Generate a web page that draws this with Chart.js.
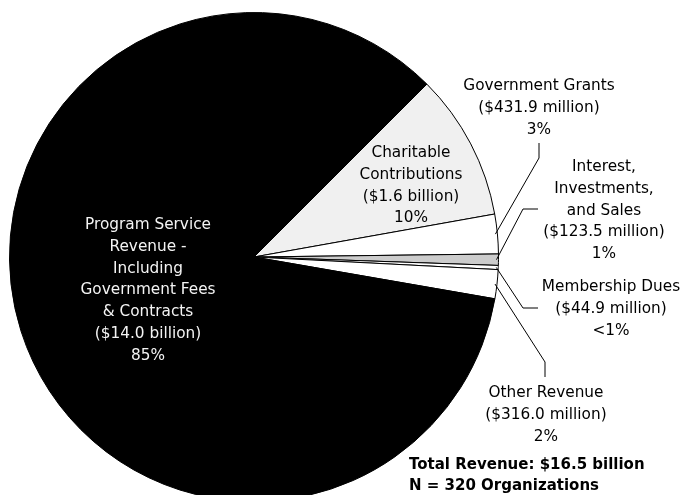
<!DOCTYPE html>
<html>
<head>
<meta charset="utf-8">
<script src="https://cdn.jsdelivr.net/npm/chart.js@4"></script>
<style>
    html, body { margin: 0; padding: 0; background: #fff; overflow: hidden; }
    #wrap { width: 683px; height: 495px; overflow: hidden; position: relative; }
</style>
</head>
<body>
<div id="wrap"><canvas id="revenueChart" width="683" height="520"></canvas></div>
<script>
// Revenue sources (millions of dollars), clockwise from the top-right
const categories = ['Charitable Contributions', 'Government Grants', 'Interest, Investments, and Sales',
    'Membership Dues', 'Other Revenue', 'Program Service Revenue - Including Government Fees & Contracts'];
const revenueMillions = [1600, 431.9, 123.5, 44.9, 316.0, 14000];
const amountLabels = ['($1.6 billion)', '($431.9 million)', '($123.5 million)', '($44.9 million)', '($316.0 million)', '($14.0 billion)'];
const percentLabels = ['10%', '3%', '1%', '<1%', '2%', '85%'];
const nameLines = [
    ['Charitable', 'Contributions'],
    ['Government Grants'],
    ['Interest,', 'Investments,', 'and Sales'],
    ['Membership Dues'],
    ['Other Revenue'],
    ['Program Service', 'Revenue -', 'Including', 'Government Fees', '& Contracts']
];
const sliceColors = ['#f0f0f0', '#ffffff', '#cccccc', '#ffffff', '#ffffff', '#000000'];
const totalLines = ['Total Revenue: $16.5 billion', 'N = 320 Organizations'];

// where each label block sits (first line centre) and its leader line bends
const labelSpots = [
    { x: 411, y: 153, color: '#000' },
    { x: 539, y: 86, color: '#000', leader: [[539, 158], [539, 143]] },
    { x: 604, y: 167, color: '#000', leader: [[523, 209], [538, 209]] },
    { x: 611, y: 287, color: '#000', leader: [[523, 308], [538, 308]] },
    { x: 546, y: 393, color: '#000', leader: [[545, 362], [545, 377]] },
    { x: 148, y: 225, color: '#f4f4f4' }
];

const LINE_H = 21.8;
const FONT = '15.3px "DejaVu Sans", Verdana, sans-serif';

const labelPlugin = {
    id: 'sliceLabels',
    afterDraw(chart) {
        const ctx = chart.ctx;
        const arcs = chart.getDatasetMeta(0).data;
        ctx.save();
        ctx.font = FONT;
        ctx.textAlign = 'center';
        ctx.textBaseline = 'middle';

        labelSpots.forEach(function(spot, i) {
            const lines = nameLines[i].concat([amountLabels[i], percentLabels[i]]);
            ctx.fillStyle = spot.color;
            lines.forEach(function(t, k) {
                ctx.fillText(t, spot.x, spot.y + k * LINE_H);
            });

            if (spot.leader) {
                const arc = arcs[i];
                const mid = (arc.startAngle + arc.endAngle) / 2;
                const r = arc.outerRadius - 2;
                ctx.beginPath();
                ctx.moveTo(arc.x + r * Math.cos(mid), arc.y + r * Math.sin(mid));
                spot.leader.forEach(function(p) { ctx.lineTo(p[0], p[1]); });
                ctx.strokeStyle = '#000';
                ctx.lineWidth = 1;
                ctx.stroke();
            }
        });

        // totals note
        ctx.font = 'bold 15px "DejaVu Sans", Verdana, sans-serif';
        ctx.textAlign = 'left';
        ctx.fillStyle = '#000';
        ctx.fillText(totalLines[0], 409, 465);
        ctx.fillText(totalLines[1], 409, 486);
        ctx.restore();
    }
};

new Chart(document.getElementById('revenueChart'), {
    type: 'pie',
    data: {
        labels: categories,
        datasets: [{
            data: revenueMillions,
            backgroundColor: sliceColors,
            borderColor: '#000',
            borderWidth: 1
        }]
    },
    options: {
        responsive: false,
        animation: false,
        rotation: 45,
        layout: { padding: { left: 9, right: 184, top: 12, bottom: 18 } },
        plugins: {
            legend: { display: false },
            tooltip: { enabled: false }
        }
    },
    plugins: [labelPlugin]
});
</script>
</body>
</html>
